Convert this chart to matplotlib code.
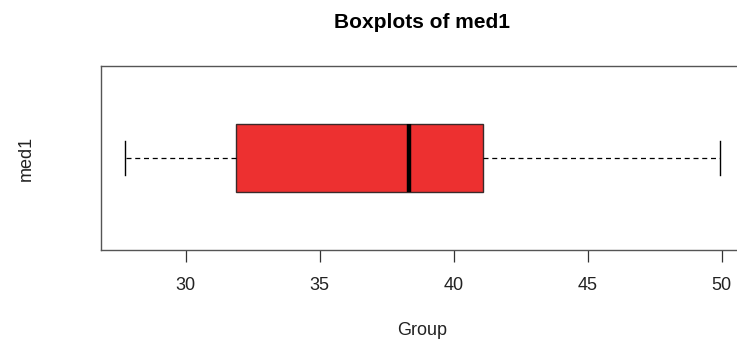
import matplotlib
matplotlib.use('Agg')
import matplotlib.pyplot as plt

# Five-number summary of med1
group_label = ['med1']
whisker_low = [27.73]
quartile_1 = [31.88]
median = [38.33]
quartile_3 = [41.10]
whisker_high = [49.94]
x_ticks = [30, 35, 40, 45, 50]

plt.rcParams['font.family'] = ['Liberation Sans', 'DejaVu Sans']

stats = [dict(label=group_label[i], whislo=whisker_low[i], q1=quartile_1[i],
              med=median[i], q3=quartile_3[i], whishi=whisker_high[i], fliers=[])
         for i in range(len(group_label))]

fig = plt.figure(figsize=(7.37, 3.47), dpi=100)
# axes run slightly past the right edge of the figure
ax = fig.add_axes([101 / 737, 97 / 347, 643 / 737, 184 / 347])

ax.bxp(stats, positions=[1], widths=0.4, vert=False, patch_artist=True,
       showfliers=False,
       boxprops=dict(facecolor='#ED3030', edgecolor='#3a2a2a', linewidth=1.0),
       medianprops=dict(color='black', linewidth=3.2, solid_capstyle='butt'),
       whiskerprops=dict(color='black', linewidth=0.9, linestyle=(0, (4, 3))),
       capprops=dict(color='black', linewidth=1.0),
       capwidths=0.2)

lo, hi = min(whisker_low), max(whisker_high)
pad = 0.04 * (hi - lo)
ax.set_xlim(lo - pad, hi + pad)
ax.set_ylim(0.46, 1.54)

ax.set_xticks(x_ticks)
ax.set_xticklabels([str(t) for t in x_ticks])
ax.tick_params(axis='x', direction='out', length=8.6, width=0.9, pad=11,
               labelsize=13, colors='#333333', labelcolor='#222222')
ax.set_yticks([])

for s in ax.spines.values():
    s.set_color('#555555')
    s.set_linewidth(1.0)

ax.set_title('Boxplots of med1', fontsize=15, fontweight='bold', pad=27)
ax.set_xlabel('Group', fontsize=13, labelpad=20, color='#222222')
ax.set_ylabel('med1', fontsize=13, labelpad=48, color='#222222')

fig.savefig('out.png', dpi=100)
